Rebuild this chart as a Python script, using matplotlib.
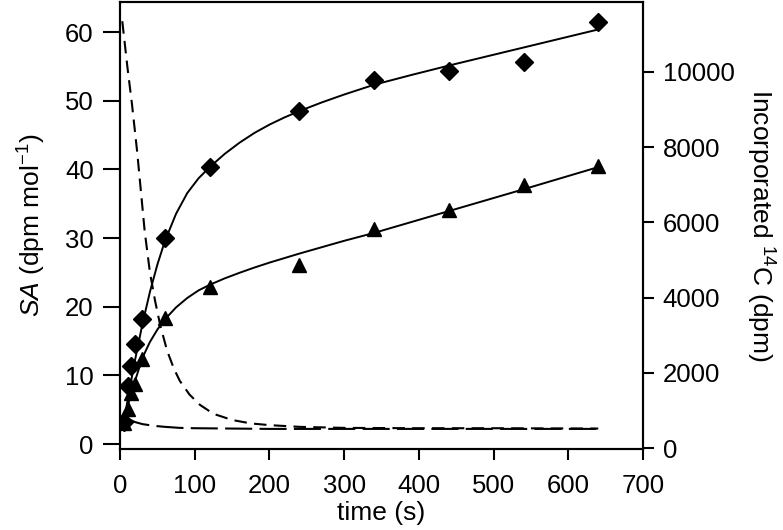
import matplotlib
matplotlib.use("Agg")
import matplotlib.pyplot as plt

plt.rcParams['font.family'] = ['Liberation Sans', 'DejaVu Sans']
plt.rcParams['mathtext.fontset'] = 'custom'
plt.rcParams['mathtext.rm'] = 'Liberation Sans'
plt.rcParams['mathtext.it'] = 'Liberation Sans:italic'

# === measured points (incorporated 14C, dpm) ===
t_pts = [5, 10, 15, 20, 30, 60, 120, 240, 340, 440, 540, 640]
diamond_dpm = [690, 1650, 2180, 2770, 3420, 5590, 7470, 8960, 9790, 10030, 10270, 11330]
triangle_dpm = [660, 1040, 1460, 1700, 2370, 3460, 4280, 4870, 5820, 6330, 7000, 7500]

# === fitted curves ===
fit_t = [5, 10, 15, 20, 30, 40, 50, 60, 75, 90, 105, 120, 140, 160, 180, 200,
         220, 240, 270, 300, 340, 390, 440, 490, 540, 590, 640]
diamond_fit = [690, 1250, 1800, 2330, 3300, 4150, 4880, 5500, 6230, 6780, 7170,
               7470, 7820, 8120, 8380, 8600, 8790, 8960, 9190, 9400, 9660, 9920,
               10170, 10410, 10650, 10890, 11130]
triangle_fit = [700, 1100, 1450, 1780, 2400, 2820, 3150, 3420, 3740, 3990, 4190,
                4340, 4510, 4660, 4800, 4930, 5050, 5170, 5340, 5510, 5720, 6010,
                6300, 6590, 6880, 7175, 7470]

# === specific activity curves (dpm mol-1) ===
sa_short_t = [3, 10, 16, 23, 33, 40, 47, 54, 63, 72, 80, 93, 107, 125, 150, 175,
              200, 240, 300, 400, 500, 640]
sa_short = [61.6, 54.8, 49.5, 42.5, 31.0, 25.0, 20.8, 17.2, 13.6, 11.0, 9.2, 7.2,
            5.7, 4.4, 3.5, 3.0, 2.75, 2.5, 2.35, 2.3, 2.3, 2.25]
sa_long_t = [5, 10, 20, 30, 45, 60, 80, 100, 150, 200, 300, 400, 500, 640]
sa_long = [4.0, 3.7, 3.2, 2.9, 2.65, 2.5, 2.35, 2.3, 2.25, 2.2, 2.2, 2.2, 2.2, 2.2]

fig = plt.figure(figsize=(7.83, 5.30), dpi=100)
ax = fig.add_axes([0.1533, 0.1528, 0.668, 0.8434])
ax2 = ax.twinx()

ax.plot(sa_short_t, sa_short, color='black', lw=1.5, ls=(0, (6, 3.5)))
ax.plot(sa_long_t, sa_long, color='black', lw=1.5, ls=(0, (13, 3.5)))

ax2.plot(fit_t, diamond_fit, color='black', lw=1.4)
ax2.plot(fit_t, triangle_fit, color='black', lw=1.4)
ax2.plot(t_pts, diamond_dpm, 'D', color='black', ms=9, ls='none')
ax2.plot(t_pts, triangle_dpm, '^', color='black', ms=10, ls='none')

ax.set_xlim(0, 700)
ax.set_ylim(-0.73, 64.4)
ax2.set_ylim(-27, 11860)
ax.set_xticks([0, 100, 200, 300, 400, 500, 600, 700])
ax.set_yticks([0, 10, 20, 30, 40, 50, 60])
ax2.set_yticks([0, 2000, 4000, 6000, 8000, 10000])

for a in (ax, ax2):
    for s in a.spines.values():
        s.set_linewidth(1.5)
ax.tick_params(axis='y', direction='out', length=12, width=1.5, labelsize=18.5, pad=7)
ax.tick_params(axis='x', direction='out', length=8, width=1.5, labelsize=18.5, pad=10)
ax2.tick_params(axis='y', direction='out', length=8, width=1.5, labelsize=18.5, pad=6)

ax.set_xlabel('time (s)', fontsize=19, labelpad=2)
ax.set_ylabel(r'$\mathit{SA}$ (dpm mol$^{\mathregular{-1}}$)', fontsize=19, labelpad=12)
ax2.set_ylabel(r'Incorporated $^{\mathregular{14}}$C (dpm)', fontsize=19,
               rotation=270, labelpad=30)

fig.savefig('out.png', dpi=100)
